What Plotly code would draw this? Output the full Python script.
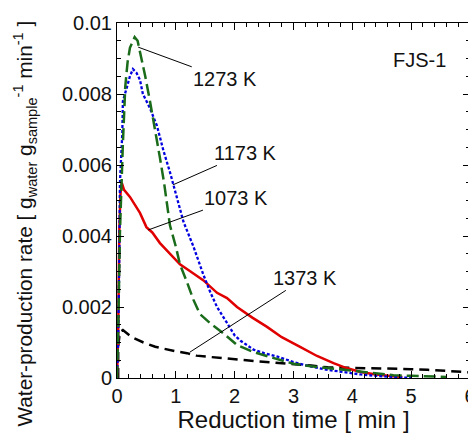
import plotly.graph_objects as go

# ---- data ----
red_x = [0.0, 0.02, 0.04, 0.06, 0.08, 0.12, 0.22, 0.3, 0.39, 0.5, 0.6, 0.73, 0.9, 1.07, 1.25, 1.47, 1.7, 1.87, 2.04, 2.3, 2.55, 2.8, 3.12, 3.4, 3.68, 3.9, 4.14, 4.4, 4.7, 4.85]
red_y = [0.0, 0.0012, 0.0042, 0.0052, 0.0055, 0.0053, 0.0051, 0.0049, 0.00465, 0.00425, 0.0041, 0.0038, 0.0035, 0.0032, 0.003, 0.00275, 0.0024, 0.00225, 0.002, 0.0017, 0.00144, 0.00115, 0.00087, 0.00062, 0.00042, 0.00028, 0.00017, 0.0001, 0.00005, 0.00003]

blue_x = [0.0, 0.02, 0.04, 0.05, 0.07, 0.09, 0.1, 0.13, 0.17, 0.22, 0.27, 0.33, 0.39, 0.44, 0.56, 0.68, 0.79, 0.9, 1.0, 1.13, 1.3, 1.47, 1.59, 1.7, 1.87, 2.0, 2.1, 2.32, 2.5, 2.73, 3.0, 3.3, 3.58, 3.9, 4.14, 4.4, 4.7, 5.0]
blue_y = [0.0, 0.001, 0.0035, 0.0055, 0.0062, 0.0069, 0.0078, 0.008, 0.0082, 0.0085, 0.0087, 0.0086, 0.0084, 0.008, 0.0076, 0.0071, 0.0064, 0.0058, 0.0052, 0.0044, 0.0037, 0.0029, 0.0024, 0.002, 0.00155, 0.0012, 0.00105, 0.0008, 0.0007, 0.0006, 0.00045, 0.00032, 0.00023, 0.00015, 0.0001, 0.00006, 0.00002, 0.0]

green_x = [0.0, 0.02, 0.05, 0.08, 0.1, 0.14, 0.18, 0.22, 0.3, 0.35, 0.39, 0.48, 0.56, 0.65, 0.73, 0.8, 0.85, 0.9, 1.0, 1.07, 1.19, 1.3, 1.41, 1.58, 1.8, 2.04, 2.32, 2.6, 3.0, 3.3, 3.58, 3.9, 4.14, 4.4, 4.7, 5.0, 5.3, 5.6]
green_y = [0.0, 0.0013, 0.0041, 0.0058, 0.0066, 0.0082, 0.0089, 0.0093, 0.0096, 0.0095, 0.0092, 0.0085, 0.0078, 0.007, 0.0062, 0.0055, 0.0049, 0.0043, 0.0037, 0.0032, 0.0027, 0.0022, 0.0018, 0.00155, 0.00127, 0.00093, 0.00073, 0.0006, 0.0004, 0.00033, 0.00028, 0.00022, 0.00017, 0.00012, 0.00008, 0.00006, 0.00005, 0.00003]

black_x = [0.02, 0.02, 0.05, 0.1, 0.25, 0.45, 0.65, 0.85, 1.0, 1.19, 1.35, 1.53, 1.7, 1.87, 2.05, 2.2, 2.4, 2.55, 2.8, 3.0, 3.3, 3.58, 3.9, 4.14, 4.4, 4.7, 5.0, 5.28, 5.6, 5.84, 6.0]
black_y = [0.0, 0.0009, 0.0013, 0.00135, 0.00115, 0.001, 0.00088, 0.0008, 0.00075, 0.0007, 0.00063, 0.0006, 0.00057, 0.00056, 0.00052, 0.0005, 0.00047, 0.00045, 0.00042, 0.0004, 0.00035, 0.0003, 0.00029, 0.00028, 0.00028, 0.00027, 0.00025, 0.00023, 0.0002, 0.00017, 0.00016]

x_ticks = [0, 1, 2, 3, 4, 5, 6]
y_ticks = [0, 0.002, 0.004, 0.006, 0.008, 0.01]
y_ticklabels = ["0", "0.002", "0.004", "0.006", "0.008", "0.01"]

labels = ["1073 K", "1173 K", "1273 K", "1373 K"]
label_head = [(0.53, 0.00417), (0.95, 0.00544), (0.36, 0.00932), (1.24, 0.00073)]
label_tail = [(2.03, 0.00507), (2.18, 0.00634), (1.84, 0.00842), (3.2, 0.00282)]

x_title = "Reduction time [ min ]"
y_title = "Water-production rate [ g<sub>water</sub> g<sub>sample</sub><sup>-1</sup> min<sup>-1</sup> ]"

FONT = "Liberation Sans, Arial, sans-serif"
TXT = "#111"

fig = go.Figure()
fig.add_trace(go.Scatter(x=black_x, y=black_y, mode="lines",
                         line=dict(color="#000000", width=2.5, dash="10px,6px")))
fig.add_trace(go.Scatter(x=red_x, y=red_y, mode="lines",
                         line=dict(color="#e00000", width=2.5)))
fig.add_trace(go.Scatter(x=blue_x, y=blue_y, mode="lines",
                         line=dict(color="#0000e0", width=2.3, dash="3px,2px")))
fig.add_trace(go.Scatter(x=green_x, y=green_y, mode="lines",
                         line=dict(color="#1a6b1a", width=2.5, dash="12px,5px")))

annotations = []
for t, (hx, hy), (tx, ty) in zip(labels, label_head, label_tail):
    annotations.append(dict(x=hx, y=hy, ax=tx, ay=ty, xref="x", yref="y",
                            axref="x", ayref="y", text=t, showarrow=True,
                            arrowhead=0, arrowwidth=1, arrowcolor="#000",
                            font=dict(size=20, color=TXT, family=FONT)))
annotations.append(dict(x=5.14, y=0.00896, xref="x", yref="y", text="FJS-1",
                        showarrow=False, font=dict(size=20, color=TXT, family=FONT)))
annotations.append(dict(x=0, y=0.435, xref="paper", yref="paper", xshift=-92,
                        text=y_title, textangle=-90, showarrow=False,
                        xanchor="center", yanchor="middle",
                        font=dict(size=20.8, color=TXT, family=FONT)))

# the page adds an 8px body margin, so the figure is 8px smaller and shifted
fig.update_layout(
    width=468, height=425,
    margin=dict(l=109, r=6, t=15, b=55),
    paper_bgcolor="white", plot_bgcolor="white",
    showlegend=False,
    font=dict(family=FONT, size=20, color=TXT),
    annotations=annotations,
    xaxis=dict(range=[0, 6], tickvals=x_ticks, ticks="inside", ticklen=7,
               tickcolor="#000", showline=True, linecolor="#000", linewidth=1,
               mirror="allticks", showgrid=False, zeroline=False, automargin=False,
               minor=dict(dtick=0.2, ticks="inside", ticklen=4, tickcolor="#000", showgrid=False),
               title=dict(text=x_title, standoff=14),
               tickfont=dict(size=20)),
    yaxis=dict(range=[0, 0.01], tickvals=y_ticks, ticktext=y_ticklabels,
               ticks="inside", ticklen=7, tickcolor="#000", showline=True,
               linecolor="#000", linewidth=1, mirror="allticks", showgrid=False,
               zeroline=False, automargin=False,
               minor=dict(dtick=0.0005, ticks="inside", ticklen=4, tickcolor="#000", showgrid=False),
               tickfont=dict(size=20)),
)

fig.write_html("out.html")
